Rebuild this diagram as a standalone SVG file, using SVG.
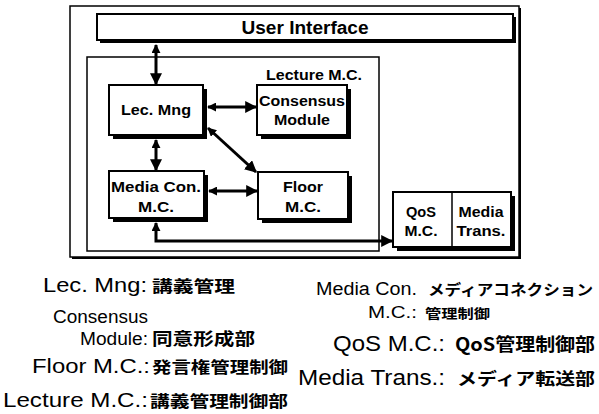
<svg xmlns="http://www.w3.org/2000/svg" width="599" height="414" viewBox="0 0 599 414">
  <style>
    .frame { fill: #fff; stroke: #000; stroke-width: 1.5; }
    .box { fill: #fff; stroke: #000; stroke-width: 2; }
    .shadow { fill: #000; }
    .lbl { font-family: "Liberation Sans", Arial, sans-serif; font-weight: bold; fill: #000; text-anchor: middle; font-size: 14px; }
    .lat { font-family: "Liberation Sans", Arial, sans-serif; fill: #000; }
    .cjk { font-family: "Noto Sans CJK JP", "Noto Sans CJK SC", sans-serif; font-weight: bold; fill: #000; }
    .conn { fill: none; stroke: #000; stroke-width: 3; }
  </style>
  <defs>
    <marker id="head" viewBox="0 0 10 10" refX="9" refY="5" markerWidth="4" markerHeight="4" orient="auto-start-reverse" markerUnits="strokeWidth">
      <path d="M0,0 L10,5 L0,10 Z" fill="#000"/>
    </marker>
    <marker id="tail" viewBox="0 0 10 10" refX="9" refY="5" markerWidth="3" markerHeight="3" orient="auto-start-reverse" markerUnits="strokeWidth">
      <path d="M0,0 L10,5 L0,10 Z" fill="#000"/>
    </marker>
  </defs>

  <!-- outer system frame -->
  <g id="system-frame">
    <rect x="72" y="8" width="449" height="251" class="shadow"/>
    <rect x="70" y="6" width="449" height="251" class="frame"/>
  </g>

  <!-- user interface bar -->
  <g id="user-interface">
    <rect x="100" y="17" width="416" height="26" class="shadow"/>
    <rect x="97" y="14" width="416" height="26" class="box"/>
    <text x="305" y="34" class="lbl" font-size="18" textLength="127" lengthAdjust="spacingAndGlyphs" style="font-size:18px">User Interface</text>
  </g>

  <!-- lecture management container -->
  <g id="lecture-mc">
    <rect x="87" y="57" width="292" height="194" class="frame"/>
    <text x="362" y="80" class="lbl" style="text-anchor:end;font-size:15px" textLength="96" lengthAdjust="spacingAndGlyphs">Lecture M.C.</text>
  </g>

  <g id="lec-mng">
    <rect x="113" y="89" width="94" height="50" class="shadow"/>
    <rect x="109" y="85" width="94" height="50" class="box"/>
    <text x="156" y="115" class="lbl" textLength="70" lengthAdjust="spacingAndGlyphs">Lec. Mng</text>
  </g>

  <g id="consensus-module">
    <rect x="261" y="89" width="90" height="50" class="shadow"/>
    <rect x="257" y="85" width="90" height="50" class="box"/>
    <text x="302" y="106" class="lbl" textLength="86" lengthAdjust="spacingAndGlyphs">Consensus</text>
    <text x="302" y="125" class="lbl" textLength="56" lengthAdjust="spacingAndGlyphs">Module</text>
  </g>

  <g id="media-con-mc">
    <rect x="113" y="175" width="95" height="47" class="shadow"/>
    <rect x="109" y="171" width="95" height="47" class="box"/>
    <text x="156" y="192" class="lbl" textLength="90" lengthAdjust="spacingAndGlyphs">Media Con.</text>
    <text x="156" y="212" class="lbl" textLength="36" lengthAdjust="spacingAndGlyphs">M.C.</text>
  </g>

  <g id="floor-mc">
    <rect x="262" y="176" width="90" height="47" class="shadow"/>
    <rect x="258" y="172" width="90" height="47" class="box"/>
    <text x="303" y="192" class="lbl" textLength="40" lengthAdjust="spacingAndGlyphs">Floor</text>
    <text x="303" y="212" class="lbl" textLength="36" lengthAdjust="spacingAndGlyphs">M.C.</text>
  </g>

  <g id="qos-media-trans">
    <rect x="397" y="196" width="118" height="55" class="shadow"/>
    <rect x="393" y="192" width="118" height="55" class="box"/>
    <line x1="452" y1="192" x2="452" y2="247" stroke="#000" stroke-width="1.5"/>
    <text x="421" y="217" class="lbl" textLength="30" lengthAdjust="spacingAndGlyphs">QoS</text>
    <text x="421" y="236" class="lbl" textLength="33" lengthAdjust="spacingAndGlyphs">M.C.</text>
    <text x="481" y="217" class="lbl" textLength="45" lengthAdjust="spacingAndGlyphs">Media</text>
    <text x="481" y="236" class="lbl" textLength="49" lengthAdjust="spacingAndGlyphs">Trans.</text>
  </g>

  <!-- connectors -->
  <g id="connectors" class="conn">
    <path d="M156,45 V84" marker-start="url(#tail)" marker-end="url(#head)"/>
    <path d="M208,107 H256" marker-start="url(#tail)" marker-end="url(#head)"/>
    <path d="M156,140 V170" marker-start="url(#tail)" marker-end="url(#head)"/>
    <path d="M208,128 L256,172" marker-start="url(#tail)" marker-end="url(#head)"/>
    <path d="M209,191 H257" marker-start="url(#tail)" marker-end="url(#head)"/>
    <path d="M156,223 V241 H392" marker-start="url(#tail)" marker-end="url(#head)"/>
  </g>

  <!-- legend: module names and their meaning -->
  <g id="legend">
    <text x="43" y="292" class="lat" font-size="21" textLength="104" lengthAdjust="spacingAndGlyphs">Lec. Mng:</text>
    <text x="152" y="292" class="cjk" font-size="16" textLength="83" lengthAdjust="spacingAndGlyphs">講義管理</text>

    <text x="53" y="323" class="lat" font-size="18" textLength="95" lengthAdjust="spacingAndGlyphs">Consensus</text>
    <text x="80" y="345" class="lat" font-size="18" textLength="68" lengthAdjust="spacingAndGlyphs">Module:</text>
    <text x="152" y="345" class="cjk" font-size="17" textLength="103" lengthAdjust="spacingAndGlyphs">同意形成部</text>

    <text x="32" y="373" class="lat" font-size="21" textLength="118" lengthAdjust="spacingAndGlyphs">Floor M.C.:</text>
    <text x="152" y="373" class="cjk" font-size="16" textLength="136" lengthAdjust="spacingAndGlyphs">発言権管理制御</text>

    <text x="3" y="407" class="lat" font-size="21" textLength="145" lengthAdjust="spacingAndGlyphs">Lecture M.C.:</text>
    <text x="150" y="407" class="cjk" font-size="16" textLength="138" lengthAdjust="spacingAndGlyphs">講義管理制御部</text>

    <text x="316" y="295" class="lat" font-size="18" textLength="101" lengthAdjust="spacingAndGlyphs">Media Con.</text>
    <text x="428" y="295" class="cjk" font-size="15" textLength="165" lengthAdjust="spacingAndGlyphs">メディアコネクション</text>
    <text x="368" y="318" class="lat" font-size="17" textLength="49" lengthAdjust="spacingAndGlyphs">M.C.:</text>
    <text x="425" y="318" class="cjk" font-size="13" textLength="65" lengthAdjust="spacingAndGlyphs">管理制御</text>

    <text x="333" y="351" class="lat" font-size="22" textLength="112" lengthAdjust="spacingAndGlyphs">QoS M.C.:</text>
    <text x="455" y="351" class="cjk" font-size="18" textLength="140" lengthAdjust="spacingAndGlyphs">QoS管理制御部</text>

    <text x="298" y="385" class="lat" font-size="22" textLength="147" lengthAdjust="spacingAndGlyphs">Media Trans.:</text>
    <text x="457" y="385" class="cjk" font-size="17" textLength="138" lengthAdjust="spacingAndGlyphs">メディア転送部</text>
  </g>
</svg>
